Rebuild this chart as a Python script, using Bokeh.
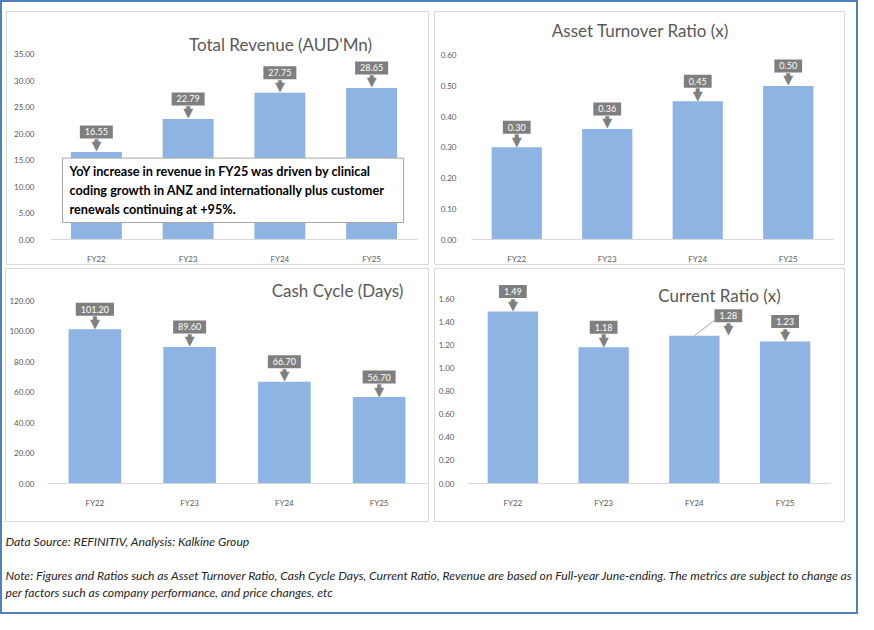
from bokeh.plotting import figure
from bokeh.layouts import column, row
from bokeh.models import (FixedTicker, NumeralTickFormatter, Label, ColumnDataSource,
                          FactorRange, Range1d)
from bokeh.transform import dodge
from bokeh.embed import file_html
from bokeh.resources import INLINE
from bokeh.core.properties import value

# ---------------- data ----------------
years = ["FY22", "FY23", "FY24", "FY25"]
revenue = [16.55, 22.79, 27.75, 28.65]
asset_turnover = [0.30, 0.36, 0.45, 0.50]
cash_cycle = [101.20, 89.60, 66.70, 56.70]
current_ratio = [1.49, 1.18, 1.28, 1.23]

revenue_ticks = [0, 5, 10, 15, 20, 25, 30, 35]
asset_ticks = [0, 0.1, 0.2, 0.3, 0.4, 0.5, 0.6]
cash_ticks = [0, 20, 40, 60, 80, 100, 120]
current_ticks = [0, 0.2, 0.4, 0.6, 0.8, 1.0, 1.2, 1.4, 1.6]

title_revenue = "Total Revenue (AUD'Mn)"
title_asset = "Asset Turnover Ratio (x)"
title_cash = "Cash Cycle (Days)"
title_current = "Current Ratio (x)"

note_box = ("YoY increase in revenue in FY25 was driven by clinical\n"
            "coding growth in ANZ and internationally plus customer\n"
            "renewals continuing at +95%.")
source_note = "Data Source: REFINITIV, Analysis: Kalkine Group"
note_line1 = ("Note: Figures and Ratios such as Asset Turnover Ratio, Cash Cycle Days, Current Ratio, "
              "Revenue are based on Full-year June-ending. The metrics are subject to change as")
note_line2 = "per factors such as company performance, and price changes, etc"

# ---------------- style ----------------
BAR = "#8DB4E2"
CALL = "#7F7F7F"
AXIS_TXT = "#595959"
FONT = "Lato"


def make_panel(vals, ticks, y_end, title, W, H, bl, br, bt, bb, tx, ty,
               ystand, xstand, dx=None, dy=None):
    dx = dx or [0, 0, 0, 0]
    dy = dy or [-20, -20, -20, -20]
    src = ColumnDataSource(dict(
        x=years, v=vals, lbl=[f"{v:.2f}" for v in vals],
        dx=dx, dy=dy,
        hdy=[d + 14 for d in dy], sdy=[d + 10 for d in dy],
        head=["\u25BC"] * 4, stem=["\u2588"] * 4,
    ))
    p = figure(x_range=FactorRange(*years), y_range=Range1d(0, y_end),
               width=W, height=H, output_backend="svg", toolbar_location=None,
               min_border_left=bl, min_border_right=br, min_border_top=bt,
               min_border_bottom=bb)
    p.styles = {"border": "1px solid #D9D9D9", "box-sizing": "border-box"}
    p.outline_line_color = None
    p.xgrid.grid_line_color = None
    p.ygrid.grid_line_color = None
    p.background_fill_color = "white"
    p.border_fill_color = "white"

    p.vbar(x="x", top="v", width=0.555, source=src, fill_color=BAR, line_color=None)

    # callout pointer: stem + head
    p.text(x="x", y="v", text="stem", source=src, x_offset="dx", y_offset="sdy",
           text_align="center", text_baseline="middle", text_color=CALL,
           text_font=value("DejaVu Sans"), text_font_size="5px")
    p.text(x="x", y="v", text="head", source=src, x_offset="dx", y_offset="hdy",
           text_align="center", text_baseline="middle", text_color=CALL,
           text_font=value("DejaVu Sans"), text_font_size="13px")
    # callout box
    p.text(x="x", y="v", text="lbl", source=src, x_offset="dx", y_offset="dy",
           text_align="center", text_baseline="middle", text_color="white",
           text_font=value(FONT), text_font_size="9px",
           background_fill_color=CALL, padding=dict(x=5, y=3))

    ya = p.yaxis[0]
    ya.ticker = FixedTicker(ticks=ticks)
    ya.formatter = NumeralTickFormatter(format="0.00")
    ya.axis_line_color = None
    ya.major_tick_line_color = None
    ya.minor_tick_line_color = None
    ya.major_label_text_font = FONT
    ya.major_label_text_font_size = "8px"
    ya.major_label_text_color = AXIS_TXT
    ya.major_label_standoff = ystand

    xa = p.xaxis[0]
    xa.axis_line_color = "#D9D9D9"
    xa.major_tick_line_color = None
    xa.minor_tick_line_color = None
    xa.major_label_text_font = FONT
    xa.major_label_text_font_size = "8px"
    xa.major_label_text_color = AXIS_TXT
    xa.major_label_standoff = xstand

    p.add_layout(Label(x=tx, y=ty, x_units="screen", y_units="screen", text=title,
                       text_align="center", text_baseline="middle",
                       text_font=FONT, text_font_size="17px", text_color=AXIS_TXT))
    return p, src


p1, s1 = make_panel(revenue, revenue_ticks, 41.4, title_revenue, 423, 254, 43, 13, 8, 27,
                    230, 195, 10, 8)
p1.add_layout(Label(x=12, y=17, x_units="screen", y_units="screen", text=note_box,
                    text_align="left", text_baseline="bottom", text_font=FONT,
                    text_font_style="bold", text_font_size="12.7px", text_color="black",
                    text_line_height=1.2, background_fill_color="white",
                    border_line_color="#A6A6A6",
                    padding=dict(left=7, right=19, top=5, bottom=5)))

p2, s2 = make_panel(asset_turnover, asset_ticks, 0.713, title_asset, 411, 254, 36, 13, 8, 25,
                    169, 209, 9, 8)

p3, s3 = make_panel(cash_cycle, cash_ticks, 135.1, title_cash, 424, 254, 39, 4, 8, 40,
                    290, 193, 7, 8)

p4, s4 = make_panel(current_ratio, current_ticks, 1.785, title_current, 411, 254, 29, 16, 8, 40,
                    252, 188, 7, 8, dx=[0, 0, 34, 0], dy=[-20, -20, -20, -20])
lead = ColumnDataSource(dict(x=[years[2]], y=[current_ratio[2]], y1=[current_ratio[2] + 0.145]))
p4.segment(x0="x", y0="y", x1=dodge("x", 0.24, range=p4.x_range), y1="y1", source=lead,
           line_color="#A6A6A6", line_width=1)

# footnotes
p5 = figure(width=850, height=88, x_range=Range1d(0, 1), y_range=Range1d(0, 1),
            output_backend="svg", toolbar_location=None, x_axis_type=None, y_axis_type=None,
            min_border=0)
p5.outline_line_color = None
p5.xgrid.grid_line_color = None
p5.ygrid.grid_line_color = None
for txt, yy in [(source_note, 71), (note_line1, 37), (note_line2, 20)]:
    p5.add_layout(Label(x=1, y=yy, x_units="screen", y_units="screen", text=txt,
                        text_align="left", text_baseline="middle", text_font=FONT,
                        text_font_style="italic", text_font_size="12.2px", text_color="#262626"))

p1.margin = (9, 0, 0, 4)
p2.margin = (9, 11, 0, 5)
p3.margin = (3, 0, 0, 3)
p4.margin = (3, 11, 0, 5)
p5.margin = (2, 0, 0, 2)

layout = column(row(p1, p2), row(p3, p4), p5)
layout.styles = {"border": "2px solid #4F81BD", "background-color": "white"}

open("out.html", "w").write(file_html(layout, INLINE))
